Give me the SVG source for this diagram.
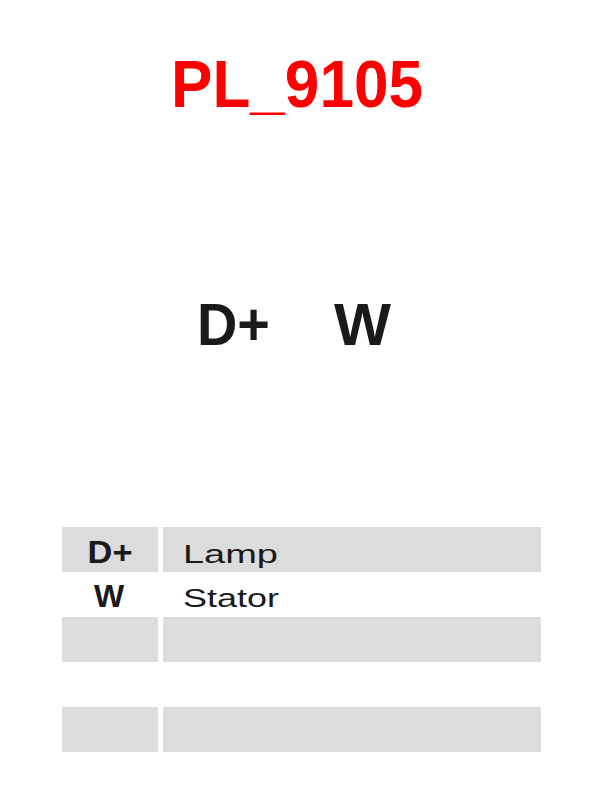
<svg xmlns="http://www.w3.org/2000/svg" width="600" height="800" viewBox="0 0 600 800">
<style>
.cell{fill:#dcdcdc}
.b{font-family:"Liberation Sans",Arial,sans-serif;font-weight:bold;fill:#1a1a1a}
.r{font-family:"Liberation Sans",Arial,sans-serif;fill:#1a1a1a}
</style>
<rect width="600" height="800" fill="#fff"/>
<g id="title"><text x="171" y="107" font-family="Liberation Sans,Arial,sans-serif" font-weight="bold" font-size="66" fill="#ff0000" textLength="252" lengthAdjust="spacingAndGlyphs">PL_9105</text></g>
<g id="pin-dplus"><text class="b" x="197" y="345" font-size="59" textLength="73" lengthAdjust="spacingAndGlyphs">D+</text></g>
<g id="pin-w"><text class="b" x="334" y="345" font-size="59" textLength="57" lengthAdjust="spacingAndGlyphs">W</text></g>
<g id="table">
<rect class="cell" x="62" y="527" width="96" height="45"/>
<rect class="cell" x="163" y="527" width="378" height="45"/>
<rect class="cell" x="62" y="617" width="96" height="45"/>
<rect class="cell" x="163" y="617" width="378" height="45"/>
<rect class="cell" x="62" y="707" width="96" height="45"/>
<rect class="cell" x="163" y="707" width="378" height="45"/>
<text class="b" x="110" y="563" font-size="32" text-anchor="middle" textLength="45" lengthAdjust="spacingAndGlyphs">D+</text>
<text class="r" x="183" y="563" font-size="26" textLength="95" lengthAdjust="spacingAndGlyphs">Lamp</text>
<text class="b" x="109" y="607" font-size="32" text-anchor="middle">W</text>
<text class="r" x="183" y="607" font-size="26" textLength="96" lengthAdjust="spacingAndGlyphs">Stator</text>
</g>
</svg>
